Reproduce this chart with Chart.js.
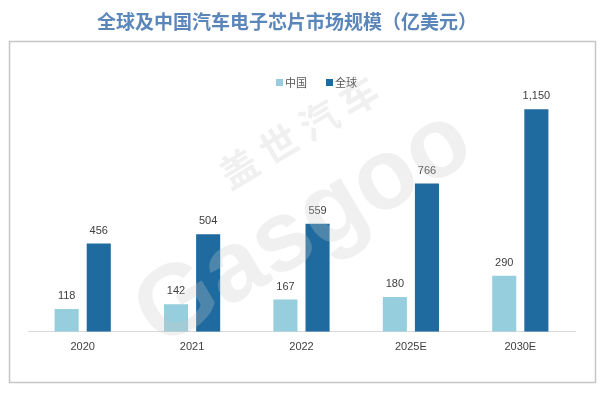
<!DOCTYPE html>
<html>
<head>
<meta charset="utf-8">
<style>
html,body{margin:0;padding:0;background:#fff;}
#wrap{position:relative;width:600px;height:393px;}
</style>
<script src="https://cdn.jsdelivr.net/npm/chart.js@4/dist/chart.umd.min.js"></script>
</head>
<body>
<div id="wrap"><canvas id="c" width="600" height="393"></canvas></div>
<script>
const titleText = '全球及中国汽车电子芯片市场规模（亿美元）';
const categories = ['2020', '2021', '2022', '2025E', '2030E'];
const chinaLabel = '中国';
const globalLabel = '全球';
const chinaValues = [118, 142, 167, 180, 290];
const globalValues = [456, 504, 559, 766, 1150];

const fmt = v => v.toLocaleString('en-US');

const decor = {
  id: 'decor',
  beforeDraw(chart) {
    const ctx = chart.ctx;
    ctx.save();
    ctx.fillStyle = '#fff';
    ctx.fillRect(0, 0, chart.width, chart.height);
    ctx.strokeStyle = '#c6c6c6';
    ctx.lineWidth = 1.5;
    ctx.strokeRect(9.5, 41.5, 586, 341);
    ctx.fillStyle = '#5b86ba';
    ctx.font = 'bold 19px "Noto Sans CJK SC"';
    ctx.textAlign = 'center';
    ctx.textBaseline = 'middle';
    ctx.fillText(titleText, 287, 22);
    // legend
    ctx.font = '11px "Noto Sans CJK SC"';
    ctx.textAlign = 'left';
    let x = 276;
    chart.data.datasets.forEach(ds => {
      ctx.fillStyle = ds.backgroundColor;
      ctx.fillRect(x, 79, 7, 7);
      ctx.fillStyle = '#595959';
      ctx.fillText(ds.label, x + 9, 82.5);
      x += 50;
    });
    ctx.restore();
  },
  afterDatasetsDraw(chart) {
    const ctx = chart.ctx;
    ctx.save();
    ctx.font = '11px "Liberation Sans", Arial';
    ctx.fillStyle = '#404040';
    ctx.textAlign = 'center';
    ctx.textBaseline = 'middle';
    chart.data.datasets.forEach((ds, i) => {
      chart.getDatasetMeta(i).data.forEach((bar, j) => {
        ctx.fillText(fmt(ds.data[j]), bar.x, bar.y - 13);
      });
    });
    // watermark
    ctx.translate(290, 205);
    ctx.rotate(-31 * Math.PI / 180);
    ctx.fillStyle = 'rgba(200,200,200,0.28)';
    ctx.textAlign = 'center';
    ctx.font = 'bold 38px "Noto Sans CJK SC"';
    ctx.fillText('盖 世 汽 车', 45, -58);
    ctx.font = 'bold 100px "Liberation Sans", Arial';
    ctx.fillText('Gasgoo', 0, 28);
    ctx.restore();
  }
};

new Chart(document.getElementById('c'), {
  type: 'bar',
  data: {
    labels: categories,
    datasets: [
      { label: chinaLabel, data: chinaValues, backgroundColor: '#96cedd' },
      { label: globalLabel, data: globalValues, backgroundColor: '#1f6b9f' }
    ]
  },
  options: {
    responsive: false,
    animation: false,
    devicePixelRatio: 1,
    layout: { padding: { top: 90, left: 28, right: 25, bottom: 30 } },
    datasets: { bar: { categoryPercentage: 0.587, barPercentage: 0.75 } },
    plugins: { legend: { display: false }, title: { display: false }, tooltip: { enabled: false } },
    scales: {
      x: {
        grid: { display: false, drawTicks: false },
        border: { display: true, color: '#d9d9d9', width: 1 },
        ticks: { color: '#404040', font: { family: '"Liberation Sans", Arial', size: 11 }, padding: 9 }
      },
      y: { display: false, min: 0, max: 1250 }
    }
  },
  plugins: [decor]
});
</script>
</body>
</html>
